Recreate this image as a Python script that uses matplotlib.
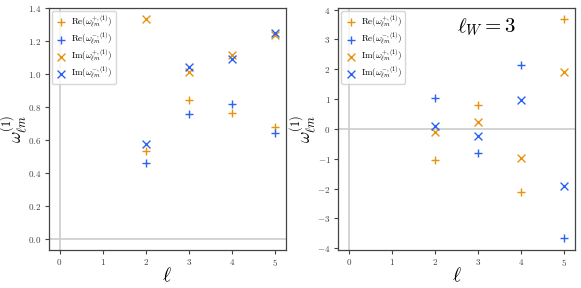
import matplotlib
matplotlib.use("Agg")
import matplotlib.pyplot as plt

plt.rcParams['font.family'] = 'cmr10'
plt.rcParams['mathtext.fontset'] = 'cm'
plt.rcParams['axes.formatter.use_mathtext'] = True
plt.rcParams['axes.unicode_minus'] = True

ell = [2, 3, 4, 5]

# panel a
re_p_a = [0.535, 0.84, 0.765, 0.678]
re_m_a = [0.46, 0.757, 0.815, 0.64]
im_p_a = [1.335, 1.01, 1.115, 1.235]
im_m_a = [0.575, 1.045, 1.09, 1.25]

# panel b (ell_W = 3)
re_p_b = [-1.04, 0.8, -2.13, 3.67]
re_m_b = [1.04, -0.8, 2.13, -3.67]
im_p_b = [-0.1, 0.24, -0.96, 1.9]
im_m_b = [0.1, -0.24, 0.96, -1.9]

labels = [r'$\mathrm{Re}(\omega^{+,(1)}_{\ell m})$',
          r'$\mathrm{Re}(\omega^{-,(1)}_{\ell m})$',
          r'$\mathrm{Im}(\omega^{+,(1)}_{\ell m})$',
          r'$\mathrm{Im}(\omega^{-,(1)}_{\ell m})$']

orange = '#e8930c'
blue = '#2a62f5'

fig = plt.figure(figsize=(5.81, 2.88), dpi=100)
ax1 = fig.add_axes([0.084, 0.133, 0.408, 0.839])
ax2 = fig.add_axes([0.582, 0.133, 0.408, 0.839])


def panel(ax, rp, rm, ip, im):
    ax.axhline(0, color='#cccccc', lw=1.2, zorder=0)
    ax.axvline(0, color='#cccccc', lw=1.2, zorder=0)
    ax.scatter(ell, rp, marker='+', color=orange, s=32, lw=1, label=labels[0])
    ax.scatter(ell, rm, marker='+', color=blue, s=32, lw=1, label=labels[1])
    ax.scatter(ell, ip, marker='x', color=orange, s=32, lw=1, label=labels[2])
    ax.scatter(ell, im, marker='x', color=blue, s=32, lw=1, label=labels[3])
    ax.set_xlim(-0.25, 5.25)
    ax.set_xticks([0, 1, 2, 3, 4, 5])
    ax.tick_params(labelsize=6.5, length=3, width=0.8, color='#444444',
                   labelcolor='#444444', pad=2.5)
    for s in ax.spines.values():
        s.set_color('#444444')
        s.set_linewidth(0.9)
    ax.set_xlabel(r'$\ell$', fontsize=14, labelpad=-1)
    ax.set_ylabel(r'$\omega^{(1)}_{\ell m}$', fontsize=12.5)
    ax.yaxis.set_label_coords(-0.08, 0.5)
    ax.legend(loc='upper left', fontsize=6.5, handletextpad=0.3, borderaxespad=0.3,
              labelspacing=0.1, borderpad=0.3, handlelength=1.6, framealpha=0.8)


panel(ax1, re_p_a, re_m_a, im_p_a, im_m_a)
ax1.set_ylim(-0.067, 1.4)
ax1.set_yticks([0.0, 0.2, 0.4, 0.6, 0.8, 1.0, 1.2, 1.4])

panel(ax2, re_p_b, re_m_b, im_p_b, im_m_b)
ax2.set_ylim(-4.05, 4.05)
ax2.set_yticks([-4, -3, -2, -1, 0, 1, 2, 3, 4])
ax2.text(3.2, 3.4, r'$\ell_W = 3$', fontsize=15, ha='center', va='center')

fig.savefig('out.png', dpi=100)
